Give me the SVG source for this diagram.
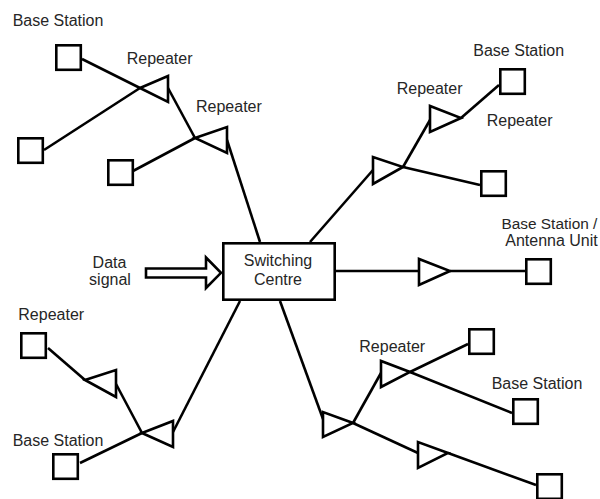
<svg xmlns="http://www.w3.org/2000/svg" width="600" height="499" viewBox="0 0 600 499">
  <style>
    .shape { fill: #fff; stroke: #000; stroke-width: 2.6; stroke-linejoin: miter; }
    .link { fill: none; stroke: #000; stroke-width: 2.6; stroke-linecap: butt; }
    .lbl { font-family: "Liberation Sans", Arial, sans-serif; font-size: 16px; fill: #262626; }
    .mid { text-anchor: middle; }
  </style>
  <defs>
    <rect id="station" width="24.5" height="24.5" class="shape"/>
  </defs>
  <rect width="600" height="499" fill="#fff"/>

  <!-- connecting cables -->
  <g id="connectors" class="link">
    <line x1="82" y1="59" x2="140" y2="88"/>
    <line x1="44" y1="150" x2="140" y2="88"/>
    <line x1="168" y1="88" x2="195" y2="138"/>
    <line x1="133" y1="171" x2="195" y2="138"/>
    <line x1="227" y1="140" x2="260" y2="242"/>
    <line x1="310" y1="242" x2="373" y2="170"/>
    <line x1="403" y1="167" x2="430" y2="120"/>
    <line x1="403" y1="167" x2="480" y2="185"/>
    <line x1="461" y1="118" x2="499" y2="85"/>
    <line x1="336" y1="271" x2="419" y2="271"/>
    <line x1="450" y1="271" x2="525" y2="271"/>
    <line x1="240" y1="301" x2="173" y2="432"/>
    <line x1="142" y1="433" x2="116" y2="384"/>
    <line x1="85" y1="380" x2="48" y2="348"/>
    <line x1="142" y1="433" x2="80" y2="463"/>
    <line x1="280" y1="301" x2="323" y2="419"/>
    <line x1="353" y1="423" x2="381" y2="373"/>
    <line x1="353" y1="423" x2="418" y2="453"/>
    <line x1="410" y1="372" x2="468" y2="344"/>
    <line x1="410" y1="372" x2="512" y2="413"/>
    <line x1="448" y1="453" x2="536" y2="485"/>
  </g>

  <!-- switching centre and incoming data -->
  <g id="switching-centre">
    <rect x="223.3" y="243.3" width="111.4" height="56.4" class="shape"/>
    <text class="lbl mid" x="278" y="266">Switching</text>
    <text class="lbl mid" x="278" y="285">Centre</text>
  </g>
  <g id="data-signal">
    <polygon class="shape" points="146,268.5 206,268.5 206,257.5 221,272.8 206,288 206,277.5 146,277.5"/>
    <text class="lbl mid" x="109.5" y="267.5">Data</text>
    <text class="lbl mid" x="110" y="285">signal</text>
  </g>

  <!-- repeaters -->
  <g id="repeater-1"><polygon class="shape" points="140,88 168,76 168,102"/></g>
  <g id="repeater-2"><polygon class="shape" points="195,138 227,127 227,153"/></g>
  <g id="repeater-3"><polygon class="shape" points="430,106 430,132 461,118"/></g>
  <g id="repeater-4"><polygon class="shape" points="373,157 373,184 403,167"/></g>
  <g id="repeater-5"><polygon class="shape" points="419,259 419,285 450,271"/></g>
  <g id="repeater-6"><polygon class="shape" points="85,380 116,370 116,397"/></g>
  <g id="repeater-7"><polygon class="shape" points="142,433 173,421 173,447"/></g>
  <g id="repeater-8"><polygon class="shape" points="323,412 323,437 353,423"/></g>
  <g id="repeater-9"><polygon class="shape" points="381,361 381,387 410,372"/></g>
  <g id="repeater-10"><polygon class="shape" points="418,442 418,468 448,453"/></g>

  <!-- base stations -->
  <g id="station-a"><use href="#station" x="56.3" y="45.3"/></g>
  <g id="station-b"><use href="#station" x="18.3" y="138.3"/></g>
  <g id="station-c"><use href="#station" x="108.3" y="160.3"/></g>
  <g id="station-d"><use href="#station" x="500.3" y="69.3"/></g>
  <g id="station-e"><use href="#station" x="481.3" y="171.3"/></g>
  <g id="station-f"><use href="#station" x="526.3" y="259.3"/></g>
  <g id="station-g"><use href="#station" x="21.3" y="333.3"/></g>
  <g id="station-h"><use href="#station" x="53.3" y="454.3"/></g>
  <g id="station-i"><use href="#station" x="537.3" y="474.3"/></g>
  <g id="station-j"><use href="#station" x="469.3" y="329.3"/></g>
  <g id="station-k"><use href="#station" x="513.3" y="399.3"/></g>

  <!-- labels -->
  <g id="labels" class="lbl">
    <text x="12.7" y="26">Base Station</text>
    <text x="126.7" y="64">Repeater</text>
    <text x="196" y="112.3">Repeater</text>
    <text x="473.3" y="56">Base Station</text>
    <text x="396.7" y="94.3">Repeater</text>
    <text x="486.7" y="126">Repeater</text>
    <text x="501.5" y="229" style="font-size:15.4px">Base Station /</text>
    <text class="mid" x="551.5" y="246">Antenna Unit</text>
    <text x="18.3" y="320">Repeater</text>
    <text x="12.7" y="446">Base Station</text>
    <text x="359.3" y="351.7">Repeater</text>
    <text x="491.7" y="389.3">Base Station</text>
  </g>
</svg>
